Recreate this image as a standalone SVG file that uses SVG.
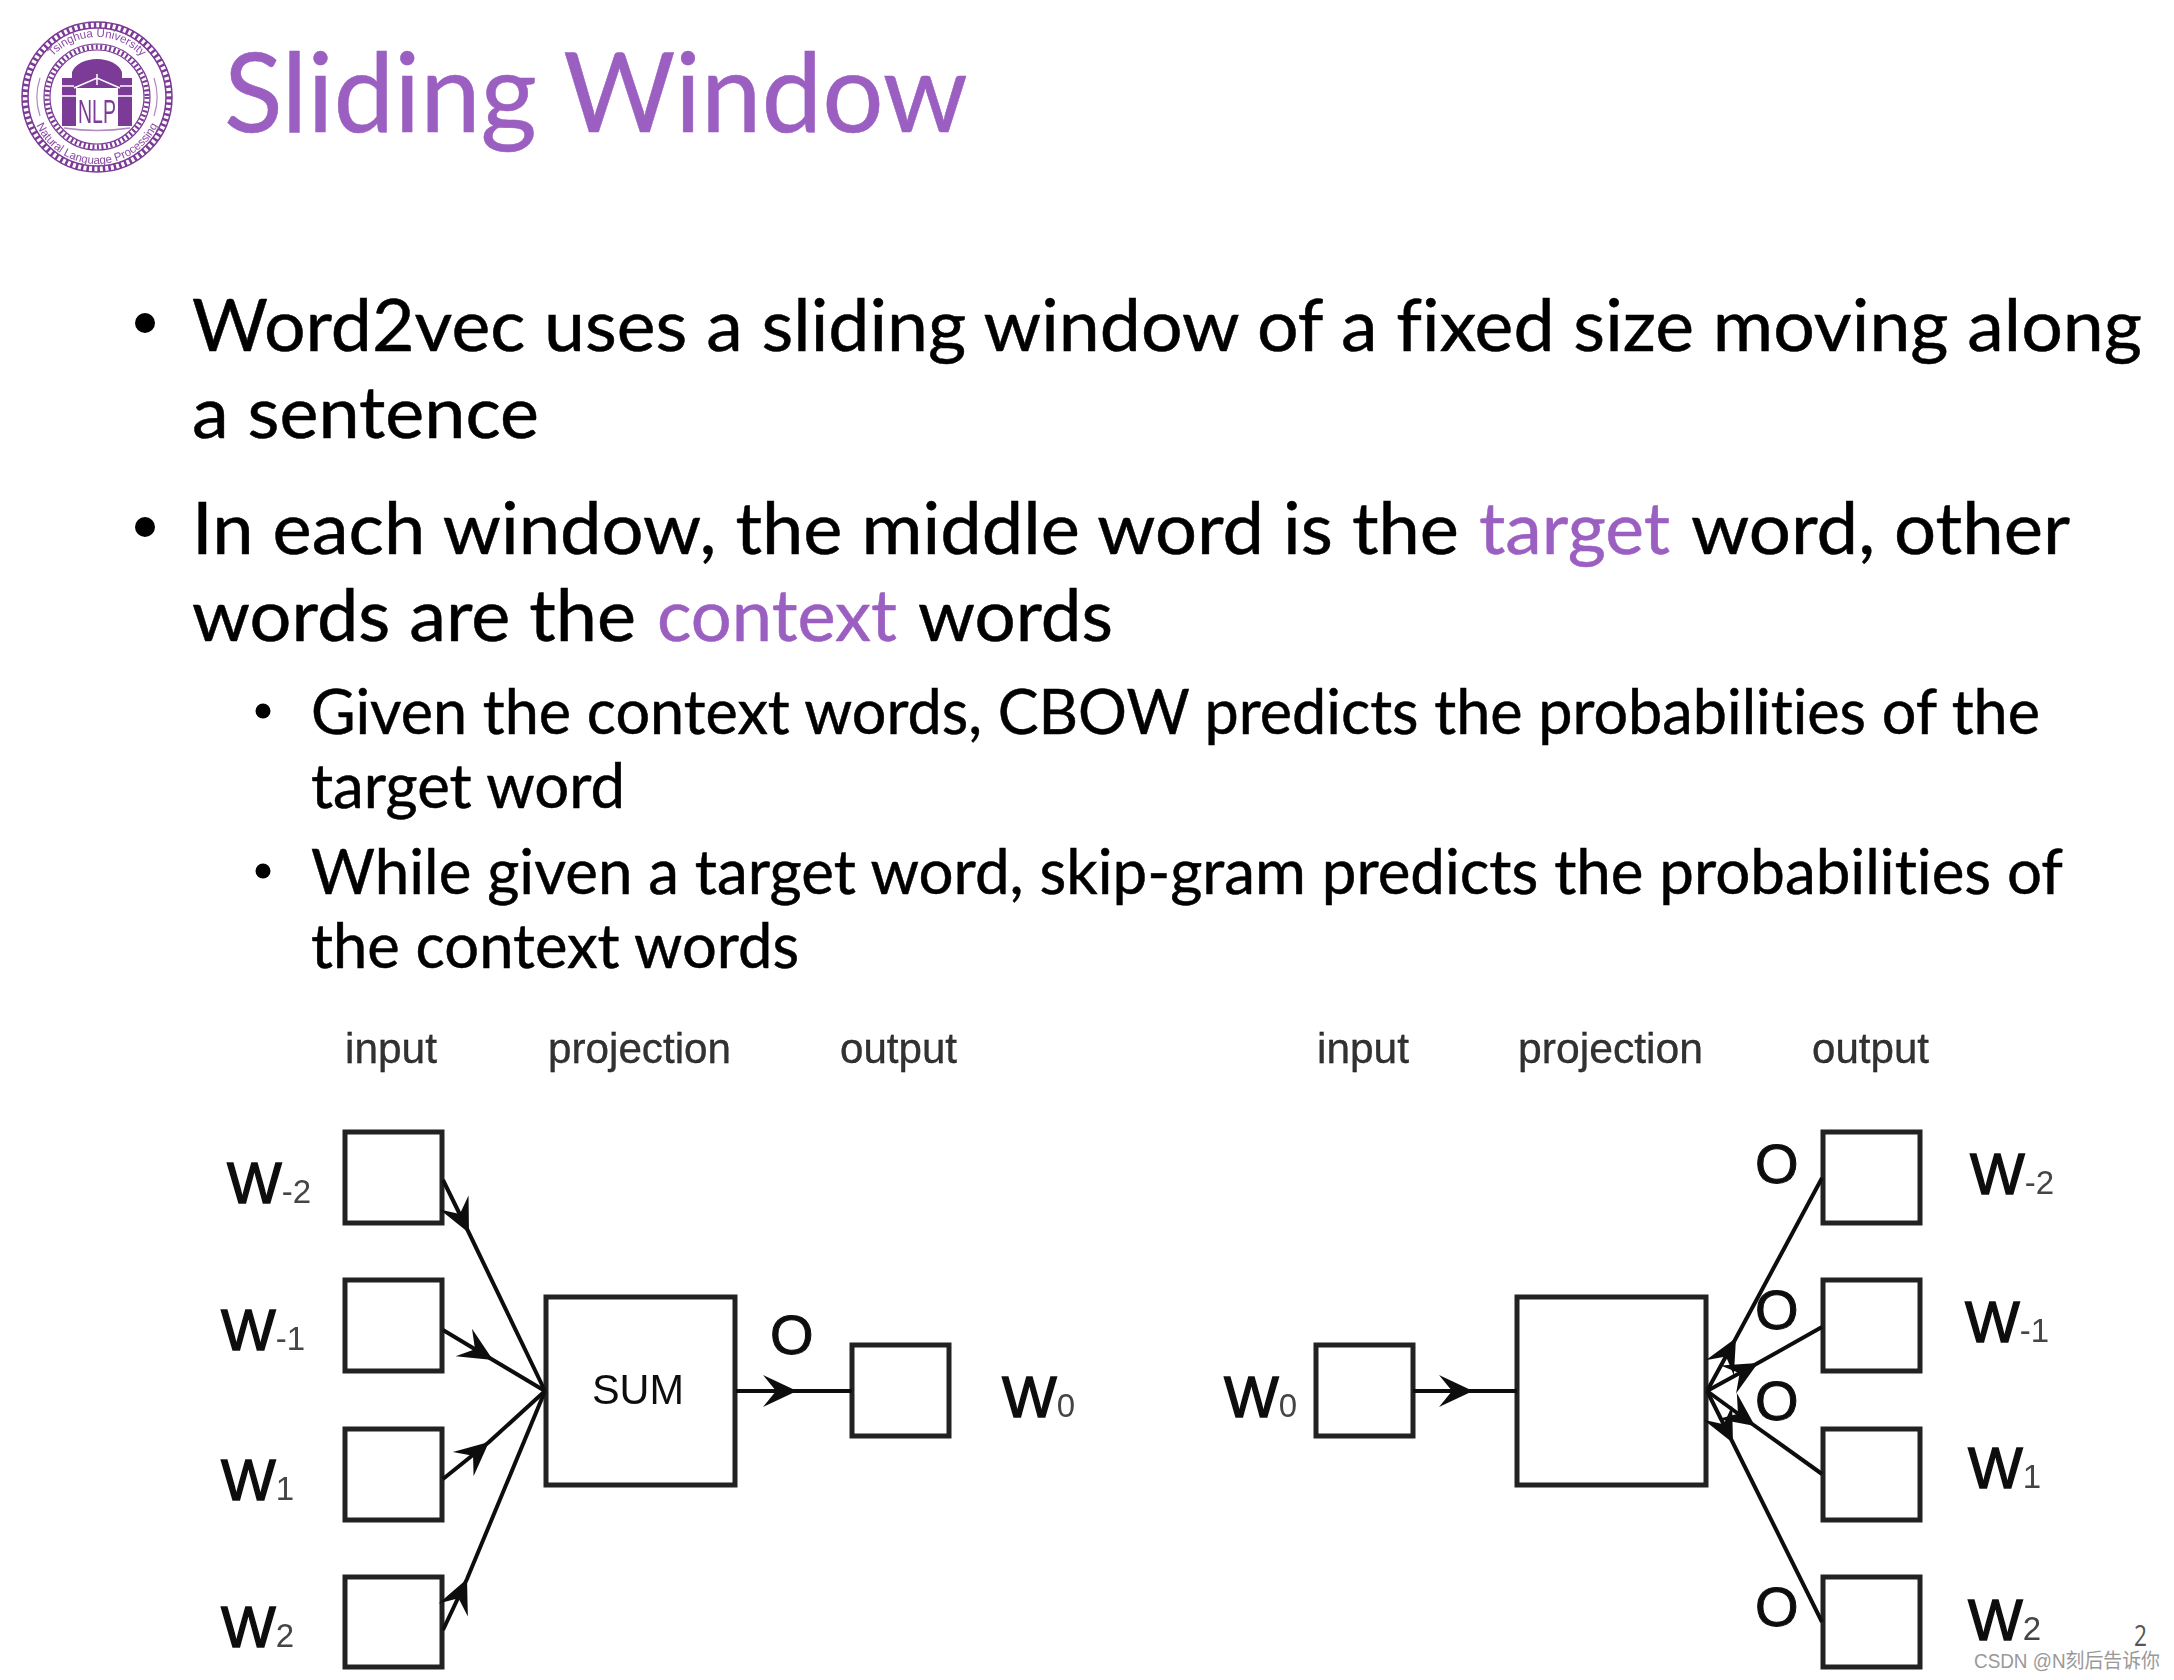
<svg xmlns="http://www.w3.org/2000/svg" width="2174" height="1680" viewBox="0 0 2174 1680">
<style>
.t{font-family:Lato,"Open Sans",sans-serif;fill:#000;font-variant-ligatures:none}
.u{stroke:#000;stroke-width:.5}
.a{fill:#9b5fc1;stroke:#9b5fc1}
.b1{font-size:71px}
.b2{font-size:61px}
.d{font-family:"Liberation Sans",Arial,sans-serif;fill:#111}
.h{font-size:42px;stroke:#111;stroke-width:.3;fill:#333}
.w{font-size:58px;stroke:#111;stroke-width:1.4}
.s{font-size:33px;stroke-width:0;fill:#444}
.o{font-size:56px;stroke-width:1}
.box{fill:#fff;stroke:#222;stroke-width:5}
.c{fill:none;stroke:#111;stroke-width:4}
.l{fill:none;stroke:#7b3a96}
.lt{font-family:"Liberation Sans",Arial,sans-serif;fill:#8a4ba5;font-size:11.5px}
</style>
<defs>
<filter id="soft" x="-5%" y="-5%" width="110%" height="110%"><feGaussianBlur stdDeviation="0.7"/></filter>
<marker id="ah" markerUnits="userSpaceOnUse" markerWidth="40" markerHeight="34" refX="34" refY="17" orient="auto" viewBox="0 0 40 34" overflow="visible">
<path d="M34,17 L0,1 L13,17 L0,33 Z" fill="#111"/>
</marker>
<path id="arcTop" d="M37,97 A60,60 0 0 1 157,97"/>
<path id="arcBot" d="M30,97 A67,67 0 0 0 164,97"/>
</defs>
<rect width="2174" height="1680" fill="#fff"/>

<g id="logo" filter="url(#soft)">
<circle class="l" cx="97" cy="97" r="75" stroke-width="1.5"/>
<circle class="l" cx="97" cy="97" r="69" stroke-width="1.5"/>
<circle class="l" cx="97" cy="97" r="72" stroke-width="6" stroke-dasharray="2.5 3"/>
<circle class="l" cx="97" cy="97" r="53" stroke-width="1.2"/>
<circle class="l" cx="97" cy="97" r="47" stroke-width="1.2"/>
<circle class="l" cx="97" cy="97" r="50" stroke-width="5" stroke-dasharray="2 2.5"/>
<path class="l" d="M40,116 A60,60 0 0 1 40,78 M154,78 A60,60 0 0 1 154,116" stroke-width="1.2" opacity="0.6"/>
<text class="lt"><textPath href="#arcTop" startOffset="50%" text-anchor="middle">Tsinghua University</textPath></text>
<text class="lt"><textPath href="#arcBot" startOffset="50%" text-anchor="middle">Natural Language Processing</textPath></text>
<path d="M72,72 A26,18 0 0 1 122,72 L122,78 L72,78 Z" fill="#7b3a96"/>
<path d="M62,78 H132 V126 H62 Z" fill="#7b3a96"/>
<path d="M74,88 L97,78 L120,88 M62,86 H74 M120,86 H132 M62,96 H76 M118,96 H132 M97,74 V85" stroke="#fff" stroke-width="1.5" fill="none"/>
<rect x="76" y="88" width="42" height="38" fill="#fff"/>
<text x="78" y="123" font-family="Liberation Sans,Arial,sans-serif" font-size="34" fill="#7b3a96" textLength="38" lengthAdjust="spacingAndGlyphs">NLP</text>
<path d="M64,128 Q97,133 130,128" class="l" stroke-width="1.5" opacity="0.6"/>
</g>

<g id="title">
<text class="t a u" x="224" y="132" font-size="110" textLength="744" lengthAdjust="spacingAndGlyphs">Sliding Window</text>
</g>

<g id="body">
<circle cx="145" cy="323" r="10"/>
<text class="t u b1" x="192" y="351" textLength="1950" lengthAdjust="spacingAndGlyphs">Word2vec uses a sliding window of a fixed size moving along</text>
<text class="t u b1" x="192" y="438" textLength="347" lengthAdjust="spacingAndGlyphs">a sentence</text>
<circle cx="145" cy="527" r="10"/>
<text class="t u b1" x="192" y="554" textLength="1267" lengthAdjust="spacingAndGlyphs">In each window, the middle word is the</text>
<text class="t u a b1" x="1479" y="554" textLength="191" lengthAdjust="spacingAndGlyphs">target</text>
<text class="t u b1" x="1691" y="554" textLength="379" lengthAdjust="spacingAndGlyphs">word, other</text>
<text class="t u b1" x="192" y="641" textLength="444" lengthAdjust="spacingAndGlyphs">words are the</text>
<text class="t u a b1" x="657" y="641" textLength="240" lengthAdjust="spacingAndGlyphs">context</text>
<text class="t u b1" x="918" y="641" textLength="195" lengthAdjust="spacingAndGlyphs">words</text>
<circle cx="263" cy="711" r="7.5"/>
<text class="t u b2" x="311" y="734" textLength="1729" lengthAdjust="spacingAndGlyphs">Given the context words, CBOW predicts the probabilities of the</text>
<text class="t u b2" x="311" y="808" textLength="314" lengthAdjust="spacingAndGlyphs">target word</text>
<circle cx="263" cy="871" r="7.5"/>
<text class="t u b2" x="311" y="894" textLength="1752" lengthAdjust="spacingAndGlyphs">While given a target word, skip-gram predicts the probabilities of</text>
<text class="t u b2" x="311" y="968" textLength="488" lengthAdjust="spacingAndGlyphs">the context words</text>
</g>

<g id="cbow-in-m2" filter="url(#soft)"><rect class="box" x="345" y="1132" width="97" height="91"/><text class="d w" x="227" y="1203">W<tspan class="s">-2</tspan></text></g>
<g id="cbow-in-m1" filter="url(#soft)"><rect class="box" x="345" y="1280" width="97" height="91"/><text class="d w" x="221" y="1350">W<tspan class="s">-1</tspan></text></g>
<g id="cbow-in-p1" filter="url(#soft)"><rect class="box" x="345" y="1429" width="97" height="91"/><text class="d w" x="221" y="1500">W<tspan class="s">1</tspan></text></g>
<g id="cbow-in-p2" filter="url(#soft)"><rect class="box" x="345" y="1577" width="97" height="90"/><text class="d w" x="221" y="1647">W<tspan class="s">2</tspan></text></g>
<g id="cbow-sum" filter="url(#soft)"><rect class="box" x="546" y="1297" width="189" height="188"/><text class="d" font-size="42" x="592" y="1404" textLength="92" lengthAdjust="spacingAndGlyphs" fill="#333">SUM</text></g>
<g id="cbow-out" filter="url(#soft)"><rect class="box" x="852" y="1345" width="97" height="91"/><text class="d w" x="1002" y="1417">W<tspan class="s">0</tspan></text><text class="d w o" x="770" y="1354">O</text></g>
<g id="cbow-heads" filter="url(#soft)">
<text class="d h" x="345" y="1063" textLength="92" lengthAdjust="spacingAndGlyphs">input</text>
<text class="d h" x="548" y="1063" textLength="183" lengthAdjust="spacingAndGlyphs">projection</text>
<text class="d h" x="840" y="1063" textLength="117" lengthAdjust="spacingAndGlyphs">output</text>
</g>

<g id="sg-in" filter="url(#soft)"><rect class="box" x="1316" y="1345" width="97" height="91"/><text class="d w" x="1224" y="1417">W<tspan class="s">0</tspan></text></g>
<g id="sg-proj" filter="url(#soft)"><rect class="box" x="1517" y="1297" width="189" height="188"/></g>
<g id="sg-out-m2" filter="url(#soft)"><rect class="box" x="1823" y="1132" width="97" height="91"/><text class="d w" x="1970" y="1194">W<tspan class="s">-2</tspan></text><text class="d w o" x="1755" y="1183">O</text></g>
<g id="sg-out-m1" filter="url(#soft)"><rect class="box" x="1823" y="1280" width="97" height="91"/><text class="d w" x="1965" y="1342">W<tspan class="s">-1</tspan></text><text class="d w o" x="1755" y="1329">O</text></g>
<g id="sg-out-p1" filter="url(#soft)"><rect class="box" x="1823" y="1429" width="97" height="91"/><text class="d w" x="1968" y="1488">W<tspan class="s">1</tspan></text><text class="d w o" x="1755" y="1420">O</text></g>
<g id="sg-out-p2" filter="url(#soft)"><rect class="box" x="1823" y="1577" width="97" height="90"/><text class="d w" x="1968" y="1640">W<tspan class="s">2</tspan></text><text class="d w o" x="1755" y="1626">O</text></g>
<g id="sg-heads" filter="url(#soft)">
<text class="d h" x="1317" y="1063" textLength="92" lengthAdjust="spacingAndGlyphs">input</text>
<text class="d h" x="1518" y="1063" textLength="185" lengthAdjust="spacingAndGlyphs">projection</text>
<text class="d h" x="1812" y="1063" textLength="117" lengthAdjust="spacingAndGlyphs">output</text>
</g>

<g id="connectors" filter="url(#soft)">
<polyline class="c" marker-mid="url(#ah)" points="443,1180 469,1233 545,1391"/>
<polyline class="c" marker-mid="url(#ah)" points="443,1330 493,1360 545,1391"/>
<polyline class="c" marker-mid="url(#ah)" points="443,1479 489,1442 545,1391"/>
<polyline class="c" marker-mid="url(#ah)" points="443,1630 467,1579 545,1391"/>
<polyline class="c" marker-mid="url(#ah)" points="736,1391 797,1391 852,1391"/>
<polyline class="c" marker-mid="url(#ah)" points="1413,1391 1473,1391 1517,1391"/>
<polyline class="c" marker-mid="url(#ah)" points="1707,1391 1736,1338 1822,1178"/>
<polyline class="c" marker-mid="url(#ah)" points="1707,1391 1758,1363 1822,1327"/>
<polyline class="c" marker-mid="url(#ah)" points="1707,1391 1755,1426 1822,1474"/>
<polyline class="c" marker-mid="url(#ah)" points="1707,1391 1733,1443 1822,1622"/>
</g>

<g id="footer">
<text x="2134" y="1646" font-family="Open Sans,sans-serif" font-size="30" fill="#555" textLength="13" lengthAdjust="spacingAndGlyphs">2</text>
<text x="1974" y="1668" font-family="Liberation Sans,'Noto Sans CJK SC',sans-serif" font-size="20" fill="#999" textLength="186" lengthAdjust="spacingAndGlyphs">CSDN @N刻后告诉你</text>
</g>
</svg>
